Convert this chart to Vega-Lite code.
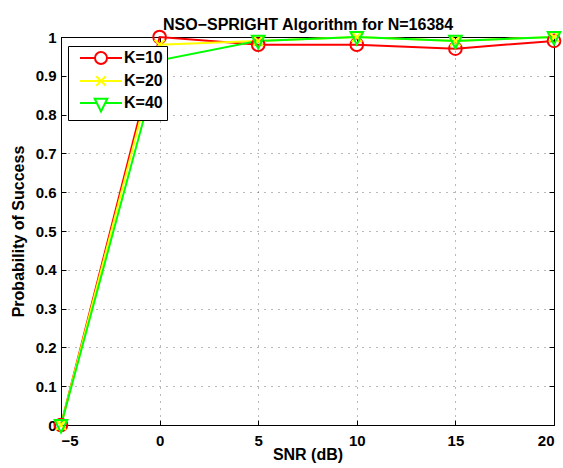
{
  "$schema": "https://vega.github.io/schema/vega-lite/v6.json",
  "autosize": {"type": "none"},
  "width": 493,
  "height": 388,
  "padding": {"left": 61, "top": 37, "right": 9, "bottom": 43},
  "background": "white",
  "config": {
    "font": "Liberation Sans",
    "view": {"stroke": "black", "strokeWidth": 1},
    "axis": {
      "labelFont": "Liberation Sans",
      "labelFontSize": 15,
      "labelFontWeight": "bold",
      "labelColor": "black",
      "titleFont": "Liberation Sans",
      "titleFontSize": 16,
      "titleFontWeight": "bold",
      "titleColor": "black",
      "domainColor": "black",
      "tickColor": "black",
      "gridColor": "black",
      "gridOpacity": 0.55,
      "gridDash": [1, 6],
      "gridWidth": 1
    },
    "legend": {
      "orient": "none",
      "legendX": 7,
      "legendY": 9,
      "padding": 4,
      "rowPadding": 4,
      "strokeColor": "black",
      "fillColor": "white",
      "labelFont": "Liberation Sans",
      "labelFontSize": 16,
      "labelFontWeight": "bold",
      "labelColor": "black",
      "symbolSize": 144,
      "symbolOffset": 21,
      "labelOffset": 15,
      "symbolStrokeWidth": 2,
      "symbolFillColor": "transparent"
    }
  },
  "data": {
    "values": [
      {"snr": -5, "p": 0, "K": "K=10"},
      {"snr": 0, "p": 1, "K": "K=10"},
      {"snr": 5, "p": 0.98, "K": "K=10"},
      {"snr": 10, "p": 0.98, "K": "K=10"},
      {"snr": 15, "p": 0.97, "K": "K=10"},
      {"snr": 20, "p": 0.99, "K": "K=10"},
      {"snr": -5, "p": 0, "K": "K=20"},
      {"snr": 0, "p": 0.98, "K": "K=20"},
      {"snr": 5, "p": 0.99, "K": "K=20"},
      {"snr": 10, "p": 1, "K": "K=20"},
      {"snr": 15, "p": 0.99, "K": "K=20"},
      {"snr": 20, "p": 1, "K": "K=20"},
      {"snr": -5, "p": 0, "K": "K=40"},
      {"snr": 0, "p": 0.94, "K": "K=40"},
      {"snr": 5, "p": 0.99, "K": "K=40"},
      {"snr": 10, "p": 1, "K": "K=40"},
      {"snr": 15, "p": 0.99, "K": "K=40"},
      {"snr": 20, "p": 1, "K": "K=40"}
    ]
  },
  "layer": [
    {
      "mark": {"type": "line", "strokeWidth": 2, "clip": false},
      "encoding": {
        "x": {
          "field": "snr", "type": "quantitative",
          "scale": {"domain": [-5, 20], "nice": false, "zero": false},
          "axis": {
            "orient": "bottom",
            "title": "SNR (dB)",
            "values": [-5, 0, 5, 10, 15, 20],
            "format": "d",
            "grid": true,
            "tickSize": -5,
            "labelPadding": 13,
            "titlePadding": -2
          }
        },
        "y": {
          "field": "p", "type": "quantitative",
          "scale": {"domain": [0, 1], "nice": false},
          "axis": {
            "orient": "left",
            "title": "Probability of Success",
            "values": [0, 0.1, 0.2, 0.3, 0.4, 0.5, 0.6, 0.7, 0.8, 0.9, 1],
            "labelExpr": "'' + datum.value",
            "grid": true,
            "tickSize": -5,
            "labelPadding": 10,
            "titlePadding": 9
          }
        },
        "color": {
          "field": "K", "type": "nominal",
          "scale": {"domain": ["K=10", "K=20", "K=40"], "range": ["#ff0000", "#ffff00", "#00ff00"]},
          "legend": {
            "title": null,
            "encode": {
              "symbols": {
                "update": {
                  "shape": {"signal": "datum.value === 'K=10' ? 'M-3.5,0H-1M1,0H3.5M-1,0A1,1 0 1,1 1,0A1,1 0 1,1 -1,0' : datum.value === 'K=20' ? 'M-3.5,0H3.5M-0.8,-0.8L0.8,0.8M-0.8,0.8L0.8,-0.8' : 'M-3.5,0H-0.6M0.6,0H3.5M-1.05,-0.7L1.05,-0.7L0,1.4Z'"},
                  "strokeWidth": {"value": 2},
                  "fill": {"value": "transparent"}
                }
              }
            }
          }
        },
        "order": {"field": "snr", "type": "quantitative"}
      }
    },
    {
      "transform": [{"filter": "datum.K === 'K=10'"}],
      "mark": {"type": "point", "shape": "circle", "filled": false, "strokeWidth": 2, "size": 160, "opacity": 1, "clip": false},
      "encoding": {
        "x": {
          "field": "snr", "type": "quantitative",
          "axis": {
            "orient": "top",
            "title": "NSO−SPRIGHT Algorithm for N=16384",
            "titlePadding": 7,
            "titleBaseline": "alphabetic",
            "labels": false,
            "domain": false,
            "grid": false,
            "values": [-5, 0, 5, 10, 15, 20],
            "tickSize": -5
          }
        },
        "y": {
          "field": "p", "type": "quantitative",
          "axis": {
            "orient": "right",
            "title": null,
            "labels": false,
            "domain": false,
            "grid": false,
            "values": [0, 0.1, 0.2, 0.3, 0.4, 0.5, 0.6, 0.7, 0.8, 0.9, 1],
            "tickSize": -5
          }
        },
        "stroke": {
          "field": "K", "type": "nominal",
          "scale": {"domain": ["K=10", "K=20", "K=40"], "range": ["#ff0000", "#ffff00", "#00ff00"]},
          "legend": null
        }
      }
    },
    {
      "transform": [{"filter": "datum.K === 'K=20'"}],
      "mark": {"type": "point", "shape": "M-0.8,-0.8L0.8,0.8M-0.8,0.8L0.8,-0.8", "filled": false, "strokeWidth": 2, "size": 160, "opacity": 1, "clip": false},
      "encoding": {
        "x": {"field": "snr", "type": "quantitative", "axis": null},
        "y": {"field": "p", "type": "quantitative", "axis": null},
        "stroke": {"field": "K", "type": "nominal", "legend": null}
      }
    },
    {
      "transform": [{"filter": "datum.K === 'K=40'"}],
      "mark": {"type": "point", "shape": "M-1,-0.8L1,-0.8L0,1.2Z", "filled": false, "strokeWidth": 2, "size": 160, "opacity": 1, "clip": false},
      "encoding": {
        "x": {"field": "snr", "type": "quantitative", "axis": null},
        "y": {"field": "p", "type": "quantitative", "axis": null},
        "stroke": {"field": "K", "type": "nominal", "legend": null}
      }
    }
  ],
  "resolve": {"axis": {"x": "independent", "y": "independent"}}
}
